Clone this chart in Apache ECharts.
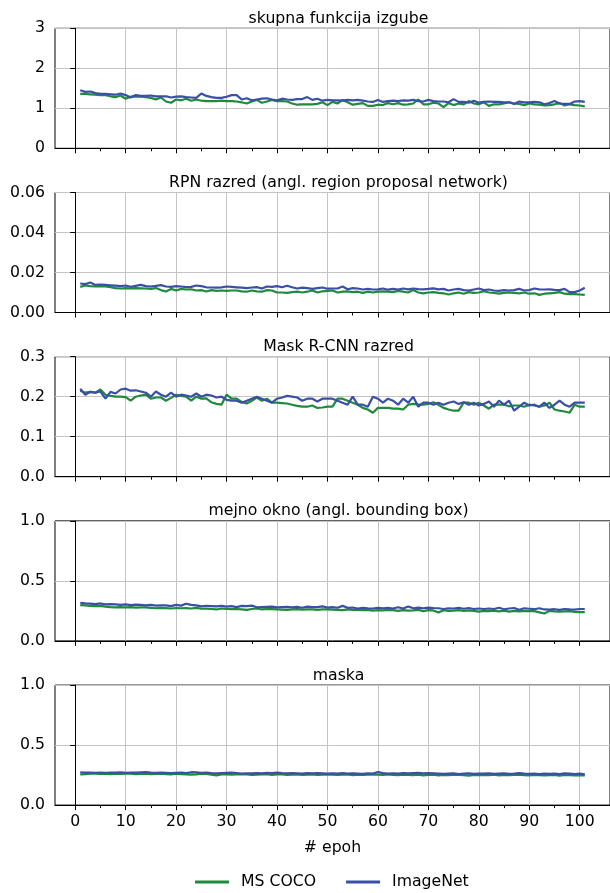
<!DOCTYPE html>
<html>
<head>
<meta charset="utf-8">
<script src="https://cdn.jsdelivr.net/npm/echarts@6/dist/echarts.min.js"></script>
<style>
html, body { margin: 0; padding: 0; background: #fff; }
#graph { width: 610px; height: 893px; }
</style>
</head>
<body>
<div id="graph"></div>
<script>
// podatki
var panelTitles = ['skupna funkcija izgube', 'RPN razred (angl. region proposal network)', 'Mask R-CNN razred', 'mejno okno (angl. bounding box)', 'maska'];
var seriesNames = ['MS COCO', 'ImageNet'];
var xTicks = [0, 10, 20, 30, 40, 50, 60, 70, 80, 90, 100];
var xMinorTicks = [5, 15, 25, 35, 45, 55, 65, 75, 85, 95];
var yMax = [3, 0.06, 0.3, 1.0, 1.0];
var yStep = [1, 0.02, 0.1, 0.5, 0.5];
var yDecimals = [0, 2, 1, 1, 1];

var cocoTotal = [1.36,1.36,1.35,1.34,1.33,1.33,1.30,1.28,1.32,1.24,
    1.29,1.30,1.29,1.28,1.26,1.22,1.27,1.17,1.14,1.22,
    1.20,1.24,1.19,1.22,1.19,1.18,1.18,1.18,1.19,1.18,
    1.18,1.17,1.15,1.12,1.17,1.21,1.14,1.17,1.21,1.18,
    1.18,1.17,1.12,1.09,1.10,1.10,1.10,1.11,1.15,1.08,
    1.16,1.12,1.21,1.15,1.09,1.11,1.13,1.06,1.06,1.09,
    1.08,1.13,1.10,1.13,1.09,1.10,1.12,1.22,1.10,1.10,
    1.14,1.12,1.03,1.13,1.08,1.12,1.10,1.18,1.12,1.10,
    1.15,1.06,1.10,1.10,1.12,1.15,1.12,1.11,1.08,1.12,
    1.10,1.09,1.07,1.08,1.10,1.13,1.07,1.10,1.08,1.07,
    1.05];
var imagenetTotal = [1.45,1.41,1.42,1.38,1.36,1.36,1.35,1.34,1.37,1.33,
    1.27,1.33,1.31,1.31,1.32,1.30,1.30,1.30,1.27,1.29,
    1.30,1.28,1.27,1.26,1.37,1.31,1.28,1.26,1.26,1.29,
    1.33,1.33,1.22,1.25,1.20,1.22,1.24,1.25,1.22,1.20,
    1.24,1.22,1.21,1.23,1.23,1.28,1.21,1.24,1.19,1.21,
    1.20,1.20,1.19,1.21,1.20,1.21,1.19,1.17,1.16,1.21,
    1.16,1.18,1.19,1.18,1.20,1.19,1.21,1.18,1.17,1.21,
    1.18,1.17,1.17,1.15,1.23,1.16,1.16,1.14,1.19,1.14,
    1.16,1.17,1.16,1.16,1.15,1.15,1.11,1.17,1.15,1.15,
    1.16,1.15,1.10,1.13,1.18,1.12,1.11,1.11,1.17,1.18,
    1.16];

var cocoRpn = [.0128,.0135,.0132,.0130,.0132,.0130,.0127,.0122,.0120,.0122,
    .0120,.0122,.0121,.0120,.0118,.0122,.0112,.0105,.0118,.0110,
    .0118,.0115,.0116,.0110,.0112,.0105,.0112,.0108,.0110,.0108,
    .0110,.0110,.0106,.0104,.0110,.0106,.0104,.0112,.0110,.0100,
    .0100,.0098,.0102,.0104,.0100,.0104,.0110,.0100,.0106,.0108,
    .0110,.0100,.0104,.0106,.0102,.0104,.0098,.0104,.0100,.0104,
    .0106,.0104,.0102,.0108,.0104,.0100,.0112,.0100,.0096,.0100,
    .0102,.0098,.0096,.0090,.0096,.0100,.0094,.0102,.0098,.0100,
    .0106,.0100,.0098,.0094,.0098,.0100,.0098,.0096,.0100,.0094,
    .0096,.0088,.0094,.0096,.0098,.0102,.0094,.0092,.0092,.0090,
    .0088];
var imagenetRpn = [.0145,.0142,.0150,.0138,.0140,.0138,.0136,.0134,.0132,.0135,
    .0128,.0133,.0138,.0132,.0130,.0133,.0137,.0130,.0128,.0132,
    .0130,.0127,.0128,.0135,.0132,.0126,.0125,.0124,.0126,.0130,
    .0128,.0126,.0124,.0122,.0125,.0127,.0120,.0130,.0128,.0132,
    .0126,.0134,.0126,.0120,.0124,.0122,.0118,.0122,.0125,.0119,
    .0120,.0120,.0130,.0116,.0122,.0120,.0115,.0118,.0115,.0116,
    .0120,.0114,.0118,.0115,.0120,.0116,.0120,.0117,.0116,.0118,
    .0121,.0116,.0118,.0110,.0115,.0118,.0112,.0110,.0115,.0120,
    .0112,.0115,.0110,.0108,.0112,.0110,.0112,.0118,.0110,.0112,
    .0120,.0116,.0115,.0116,.0113,.0112,.0118,.0102,.0102,.0110,
    .0124];

var cocoClass = [.215,.210,.212,.210,.218,.205,.202,.200,.200,.199,
    .190,.200,.203,.205,.195,.198,.198,.190,.197,.205,
    .202,.200,.190,.200,.195,.196,.186,.182,.180,.205,
    .195,.195,.187,.183,.190,.198,.190,.195,.185,.185,
    .184,.183,.180,.177,.175,.175,.178,.172,.173,.175,
    .175,.195,.195,.190,.185,.180,.172,.168,.160,.172,
    .172,.172,.170,.170,.168,.180,.182,.180,.180,.182,
    .186,.180,.172,.168,.165,.165,.185,.185,.180,.185,
    .178,.170,.180,.180,.180,.176,.178,.178,.175,.180,
    .178,.175,.178,.185,.168,.165,.163,.160,.180,.175,
    .175];
var imagenetClass = [.220,.205,.212,.210,.213,.195,.212,.208,.218,.220,
    .215,.216,.213,.210,.200,.213,.205,.200,.210,.200,
    .205,.203,.200,.208,.200,.205,.203,.198,.200,.192,
    .190,.190,.185,.190,.195,.200,.195,.190,.185,.195,
    .198,.202,.200,.198,.190,.195,.195,.188,.195,.195,
    .195,.190,.185,.180,.200,.180,.180,.175,.200,.195,
    .185,.195,.190,.180,.195,.185,.200,.175,.185,.185,
    .180,.185,.180,.185,.188,.182,.186,.180,.185,.178,
    .182,.188,.175,.190,.180,.190,.165,.175,.185,.178,
    .180,.175,.185,.172,.180,.190,.180,.175,.185,.185,
    .185];

var cocoBox = [.298,.296,.292,.290,.292,.286,.282,.280,.282,.280,
    .281,.278,.280,.279,.276,.272,.275,.273,.270,.274,
    .272,.273,.270,.275,.268,.268,.266,.262,.270,.266,
    .264,.266,.262,.258,.266,.270,.262,.266,.264,.262,
    .260,.258,.262,.264,.260,.262,.262,.258,.262,.262,
    .260,.258,.256,.262,.258,.258,.256,.258,.252,.256,
    .255,.258,.256,.250,.256,.252,.254,.258,.248,.256,
    .254,.236,.256,.250,.252,.256,.250,.254,.250,.244,
    .250,.248,.252,.246,.252,.244,.250,.246,.250,.248,
    .248,.238,.228,.250,.246,.244,.246,.248,.242,.240,
    .240];
var imagenetBox = [.318,.312,.310,.306,.312,.304,.306,.304,.300,.304,
    .298,.302,.300,.296,.300,.294,.296,.296,.290,.300,
    .294,.310,.300,.296,.288,.292,.290,.288,.292,.286,
    .290,.282,.292,.290,.294,.280,.282,.284,.286,.280,
    .282,.284,.280,.284,.276,.286,.282,.282,.288,.278,
    .282,.276,.292,.276,.278,.270,.276,.272,.270,.276,
    .272,.276,.270,.280,.270,.286,.272,.278,.272,.278,
    .274,.272,.266,.272,.270,.276,.268,.274,.266,.270,
    .266,.270,.266,.276,.264,.270,.274,.260,.272,.268,
    .264,.272,.262,.260,.264,.258,.266,.262,.260,.266,
    .266];

var cocoMask = [.256,.258,.262,.262,.260,.262,.258,.262,.260,.262,
    .262,.258,.260,.262,.258,.260,.262,.258,.256,.262,
    .258,.256,.254,.256,.262,.260,.254,.248,.256,.256,
    .254,.256,.258,.256,.252,.254,.256,.258,.252,.256,
    .256,.252,.254,.256,.252,.254,.256,.252,.254,.256,
    .254,.252,.254,.256,.250,.254,.252,.254,.256,.254,
    .252,.256,.252,.250,.254,.252,.250,.254,.248,.252,
    .254,.248,.252,.250,.254,.252,.250,.246,.252,.250,
    .252,.250,.254,.248,.252,.250,.252,.254,.250,.248,
    .252,.250,.248,.250,.252,.246,.252,.250,.248,.250,
    .248];
var imagenetMask = [.272,.270,.270,.268,.270,.268,.270,.270,.272,.268,
    .270,.270,.272,.274,.270,.268,.270,.268,.266,.268,
    .270,.266,.274,.272,.268,.270,.266,.264,.266,.268,
    .270,.266,.262,.264,.264,.266,.264,.268,.266,.270,
    .266,.264,.266,.264,.262,.266,.264,.266,.264,.262,
    .264,.262,.266,.262,.264,.262,.260,.264,.262,.276,
    .266,.262,.264,.262,.266,.264,.266,.268,.264,.266,
    .264,.262,.260,.262,.264,.258,.262,.264,.260,.262,
    .262,.264,.260,.262,.264,.260,.262,.266,.262,.260,
    .262,.258,.262,.260,.262,.258,.264,.262,.258,.262,
    .256];

var cocoData = [cocoTotal, cocoRpn, cocoClass, cocoBox, cocoMask];
var imagenetData = [imagenetTotal, imagenetRpn, imagenetClass, imagenetBox, imagenetMask];

var colors = ['#1f8a3b', '#3a4fa6'];
var font = 'DejaVu Sans';
var fontSize = 15.7;
var gridLeft = 55, gridWidth = 558, gridTop = 28.3, gridStep = 164.2, gridHeight = 120;

// epoha se zacne z 1
function withEpochs(arr) {
    return arr.map(function (v, i) { return [i + 1, v]; });
}

var grids = [], xAxes = [], yAxes = [], titles = [], series = [];
for (var i = 0; i < 5; i++) {
    var panelTop = gridTop + i * gridStep;
    grids.push({
        left: gridLeft, top: panelTop, width: gridWidth, height: gridHeight,
        show: true, borderColor: '#000', borderWidth: 1, backgroundColor: 'transparent'
    });
    titles.push({
        text: panelTitles[i],
        left: 333.5,
        top: panelTop - 22.5,
        textAlign: 'center',
        textStyle: { fontFamily: font, fontSize: fontSize, fontWeight: 'normal', color: '#000' }
    });
    var last = (i === 4);
    xAxes.push({
        gridIndex: i, type: 'value', position: 'bottom', min: -4, max: 106,
        name: last ? '# epoh' : '',
        nameLocation: 'middle', nameGap: 35,
        nameTextStyle: { fontFamily: font, fontSize: fontSize, color: '#000' },
        axisLine: { lineStyle: { color: '#000', width: 1 } },
        axisTick: { customValues: xTicks, length: 5, lineStyle: { color: '#000', width: 1 } },
        axisLabel: { show: last, customValues: xTicks, margin: 9, fontFamily: font, fontSize: fontSize, color: '#000' },
        splitLine: { show: true, lineStyle: { color: '#c4c4c4', width: 1 } }
    });
    // manjse oznake
    xAxes.push({
        gridIndex: i, type: 'value', position: 'bottom', min: -4, max: 106,
        axisLine: { show: false },
        axisTick: { customValues: xMinorTicks, length: 3, lineStyle: { color: '#000', width: 1 } },
        axisLabel: { show: false },
        splitLine: { show: false }
    });
    (function (d) {
        yAxes.push({
            gridIndex: i, type: 'value', min: 0, max: yMax[i], interval: yStep[i],
            axisLine: { show: true, lineStyle: { color: '#000', width: 1 } },
            axisTick: { show: true, length: 5, lineStyle: { color: '#000', width: 1 } },
            axisLabel: {
                margin: 10, fontFamily: font, fontSize: fontSize, color: '#000',
                formatter: function (v) { return v.toFixed(d); }
            },
            splitLine: { show: true, lineStyle: { color: '#c4c4c4', width: 1 } }
        });
    })(yDecimals[i]);
    series.push({
        name: seriesNames[0], type: 'line', xAxisIndex: 2 * i, yAxisIndex: i,
        data: withEpochs(cocoData[i]), symbol: 'none',
        lineStyle: { color: colors[0], width: 2.2 }, itemStyle: { color: colors[0] }
    });
    series.push({
        name: seriesNames[1], type: 'line', xAxisIndex: 2 * i, yAxisIndex: i,
        data: withEpochs(imagenetData[i]), symbol: 'none',
        lineStyle: { color: colors[1], width: 2.2 }, itemStyle: { color: colors[1] }
    });
}

var dom = document.getElementById('graph');
var myChart = echarts.init(dom);
var option = {
    animation: false,
    backgroundColor: '#fff',
    title: titles,
    grid: grids,
    xAxis: xAxes,
    yAxis: yAxes,
    legend: {
        data: seriesNames,
        left: 190,
        top: 869,
        icon: 'rect',
        itemWidth: 34,
        itemHeight: 3,
        itemGap: 30,
        textStyle: { fontFamily: font, fontSize: fontSize, color: '#000', padding: [0, 0, 0, 7] }
    },
    series: series
};
myChart.setOption(option);
</script>
</body>
</html>
